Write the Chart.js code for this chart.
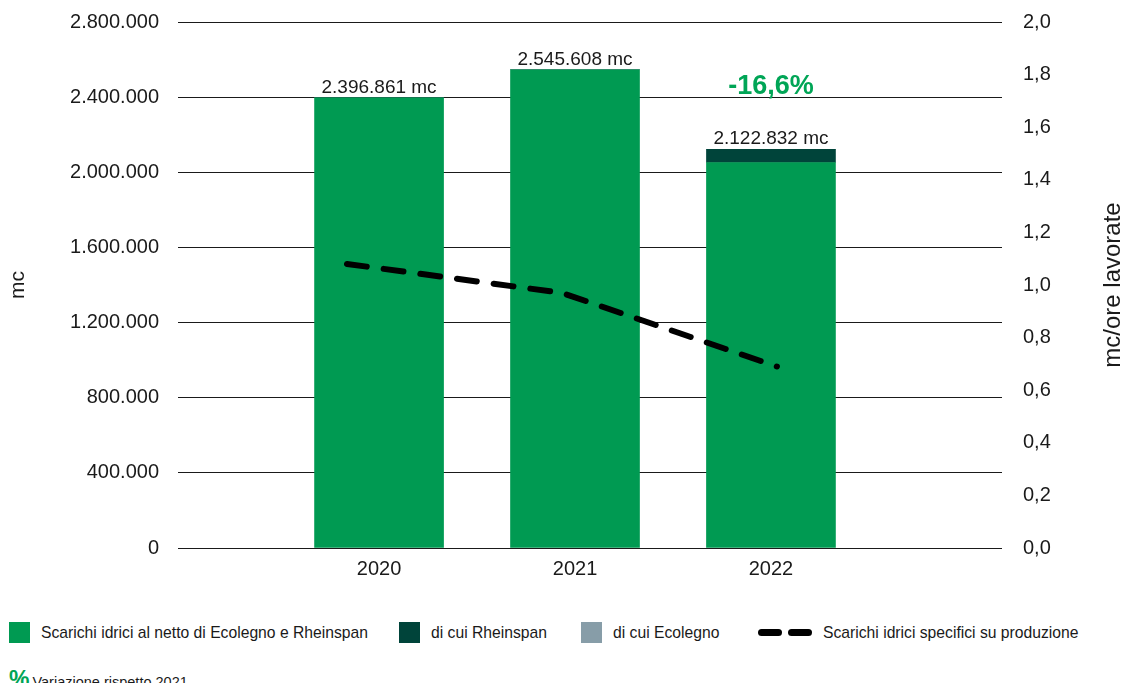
<!DOCTYPE html>
<html lang="it">
<head>
<meta charset="utf-8">
<title>Scarichi idrici</title>
<script src="https://cdn.jsdelivr.net/npm/chart.js@4.4.1/dist/chart.umd.min.js"></script>
<style>
  html, body { margin: 0; padding: 0; background: #fff; }
  body {
    width: 1127px; height: 683px; position: relative; overflow: hidden;
    font-family: 'Liberation Sans', Arial, sans-serif; color: #1a1a1a;
  }
  #grafico { position: absolute; left: 0; top: 0; }
  .legend { position: absolute; left: 0; top: 622px; width: 1127px; height: 22px; font-size: 15.7px; }
  .legend .item { position: absolute; top: 0; display: flex; align-items: center; height: 21px; white-space: nowrap; }
  .legend .box { width: 21px; height: 21px; margin-right: 11px; }
  .legend .dash { display: flex; gap: 6px; margin-right: 11px; }
  .legend .dash span { width: 24px; height: 7px; border-radius: 4px; background: #000; }
  .note { position: absolute; left: 9px; top: 666px; font-size: 14.5px; white-space: nowrap; }
  .note b { color: #00a556; font-size: 23px; margin-right: 3px; }
</style>
</head>
<body>
<canvas id="grafico" width="1127" height="600"></canvas>
<div class="legend" id="legenda"></div>
<div class="note"><b>%</b>Variazione rispetto 2021</div>

<script>
const years = [2020, 2021, 2022];
const scarichiNetti = [2396861, 2545608, 2052000];
const rheinspan = [0, 0, 70832];
const ecolegno = [0, 0, 0];
const scarichiSpecifici = [1.08, 0.97, 0.69];

const mcTicks = [0, 400000, 800000, 1200000, 1600000, 2000000, 2400000, 2800000];
const rateTicks = [0, 0.2, 0.4, 0.6, 0.8, 1.0, 1.2, 1.4, 1.6, 1.8, 2.0];

const GREEN = '#009a52';
const DARK = '#00443a';
const GREY = '#879da8';
const PCT_GREEN = '#00a556';
const TEXT = '#1a1a1a';
const FONT = "'Liberation Sans', Arial, sans-serif";

// left edge of each legend entry
const legendLeft = [9, 399, 581, 758];

Chart.defaults.font.family = FONT;
Chart.defaults.color = TEXT;

function thousands(v) {
  return String(Math.round(v)).replace(/\B(?=(\d{3})+(?!\d))/g, '.');
}
function decimal(v, d) {
  return v.toFixed(d).replace('.', ',');
}
function points(values) {
  return years.map((y, i) => ({ x: y, y: values[i] }));
}

// totals above the bars, plus the change of the last year on the previous one
const valueLabels = {
  id: 'valueLabels',
  afterDatasetsDraw(chart) {
    const { ctx } = chart;
    const xs = chart.scales.x;
    const ys = chart.scales.y;
    const bars = chart.data.datasets.filter(d => d.type === 'bar');
    const totals = years.map((_, i) => bars.reduce((s, d) => s + d.data[i].y, 0));
    ctx.save();
    ctx.textAlign = 'center';
    ctx.textBaseline = 'alphabetic';
    totals.forEach((t, i) => {
      const x = xs.getPixelForValue(years[i]);
      const base = ys.getPixelForValue(t) - 5;
      ctx.fillStyle = TEXT;
      ctx.font = '19px ' + FONT;
      ctx.fillText(thousands(t) + ' mc', x, base);
      if (i === totals.length - 1) {
        const pct = (t - totals[i - 1]) / totals[i - 1] * 100;
        ctx.fillStyle = PCT_GREEN;
        ctx.font = 'bold 27px ' + FONT;
        ctx.fillText(decimal(pct, 1) + '%', x, base - 50);
      }
    });
    ctx.restore();
  }
};

// right axis title, read bottom to top
const rightTitle = {
  id: 'rightTitle',
  afterDraw(chart) {
    const { ctx, chartArea } = chart;
    const title = chart.options.scales.y1.title;
    ctx.save();
    ctx.translate(1113, (chartArea.top + chartArea.bottom) / 2);
    ctx.rotate(-Math.PI / 2);
    ctx.textAlign = 'center';
    ctx.textBaseline = 'middle';
    ctx.fillStyle = TEXT;
    ctx.font = '24px ' + FONT;
    ctx.fillText(title.text, 0, 0);
    ctx.restore();
  }
};

const barStyle = {
  type: 'bar',
  stack: 'scarichi',
  grouped: false,
  barThickness: 129,
  maxBarThickness: 129,
  order: 2,
};

const config = {
  type: 'bar',
  data: {
    datasets: [
      { ...barStyle, label: 'Scarichi idrici al netto di Ecolegno e Rheinspan', data: points(scarichiNetti), backgroundColor: GREEN },
      { ...barStyle, label: 'di cui Rheinspan', data: points(rheinspan), backgroundColor: DARK },
      { ...barStyle, label: 'di cui Ecolegno', data: points(ecolegno), backgroundColor: GREY },
      {
        type: 'line',
        label: 'Scarichi idrici specifici su produzione',
        data: points(scarichiSpecifici),
        xAxisID: 'xLine',
        yAxisID: 'y1',
        borderColor: '#000',
        borderWidth: 6,
        borderDash: [20, 17],
        borderCapStyle: 'round',
        borderJoinStyle: 'round',
        pointRadius: 0,
        tension: 0,
        order: 0,
      },
    ],
  },
  options: {
    responsive: false,
    animation: false,
    layout: { padding: { top: 22, left: 0, right: 0, bottom: 0 } },
    plugins: {
      legend: { display: false },
      tooltip: { enabled: false },
    },
    scales: {
      x: {
        type: 'linear',
        min: 2018.974,
        max: 2023.179,
        offset: false,
        stacked: true,
        grid: { display: false, offset: false },
        border: { display: false },
        afterBuildTicks: s => { s.ticks = years.map(v => ({ value: v })); },
        ticks: { callback: v => String(v), font: { size: 20 }, padding: 1, maxRotation: 0, autoSkip: false },
        afterFit: s => { s.height = 52; },
      },
      xLine: {
        type: 'linear',
        display: false,
        offset: false,
        min: 2019.214,
        max: 2023.047,
      },
      y: {
        position: 'left',
        min: 0,
        max: 2800000,
        stacked: true,
        afterBuildTicks: s => { s.ticks = mcTicks.map(v => ({ value: v })); },
        ticks: { callback: v => thousands(v), font: { size: 20 }, padding: 0 },
        grid: { color: '#1a1a1a', lineWidth: 1, drawTicks: true, tickLength: 19, tickColor: 'rgba(0,0,0,0)' },
        border: { display: false },
        title: { display: true, text: 'mc', font: { size: 21 }, padding: { top: 6 } },
        afterFit: s => { s.width = 178; },
      },
      y1: {
        position: 'right',
        min: 0,
        max: 2,
        afterBuildTicks: s => { s.ticks = rateTicks.map(v => ({ value: v })); },
        ticks: { callback: v => decimal(v, 1), font: { size: 20 }, padding: 0 },
        grid: { drawOnChartArea: false, drawTicks: true, tickLength: 21, tickColor: 'rgba(0,0,0,0)' },
        border: { display: false },
        title: { display: false, text: 'mc/ore lavorate' },
        afterFit: s => { s.width = 125; },
      },
    },
  },
  plugins: [valueLabels, rightTitle],
};

const grafico = new Chart(document.getElementById('grafico'), config);

// legend under the chart, built from the datasets
const $legenda = document.getElementById('legenda');
grafico.data.datasets.forEach((d, i) => {
  const symbol = d.type === 'line'
    ? '<span class="dash"><span></span><span></span></span>'
    : `<span class="box" style="background:${d.backgroundColor}"></span>`;
  $legenda.insertAdjacentHTML('beforeend',
    `<div class="item" style="left:${legendLeft[i]}px">${symbol}<span>${d.label}</span></div>`);
});
</script>
</body>
</html>
